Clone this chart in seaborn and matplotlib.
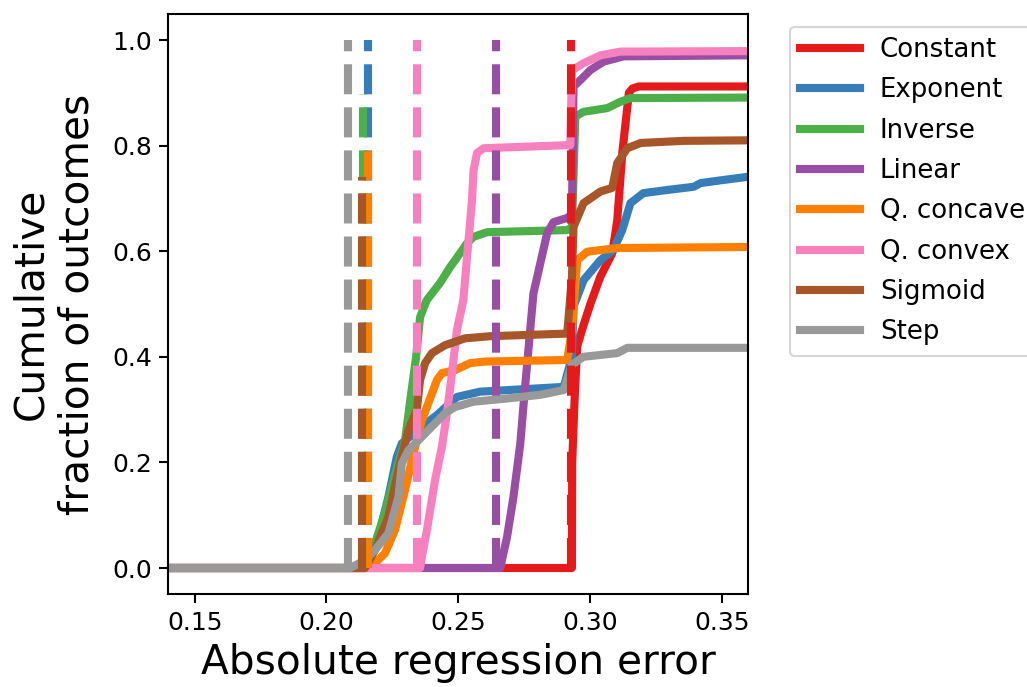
import numpy as np
import pandas as pd
import matplotlib
matplotlib.use("Agg")
import matplotlib.pyplot as plt
import seaborn as sns
from matplotlib.lines import Line2D

categories = ["Constant", "Exponent", "Inverse", "Linear",
              "Q. concave", "Q. convex", "Sigmoid", "Step"]
colors = ["#e41a1c", "#377eb8", "#4daf4a", "#984ea3",
          "#ff7f00", "#f781bf", "#a65628", "#999999"]

constant_x = [0.14, 0.2931, 0.2932, 0.2942, 0.2951, 0.2975, 0.3001, 0.3039, 0.3084,
              0.3103, 0.3122, 0.3147, 0.3160, 0.3184, 0.36]
constant_y = [0.0, 0.0, 0.20, 0.33, 0.42, 0.46, 0.50, 0.552, 0.596,
              0.659, 0.786, 0.90, 0.908, 0.912, 0.912]

exponent_x = [0.14, 0.2140, 0.2165, 0.2197, 0.2235, 0.2267, 0.2286, 0.2362, 0.2420,
              0.2495, 0.2583, 0.2900, 0.2931, 0.2937, 0.2975, 0.3039, 0.3088, 0.3122,
              0.3153, 0.3202, 0.3293, 0.3393, 0.3419, 0.3507, 0.36]
exponent_y = [0.0, 0.0, 0.015, 0.059, 0.135, 0.211, 0.236, 0.268, 0.29,
              0.324, 0.334, 0.343, 0.40, 0.495, 0.545, 0.583, 0.602, 0.64,
              0.691, 0.71, 0.716, 0.722, 0.729, 0.735, 0.741]

inverse_x = [0.14, 0.2145, 0.2180, 0.2225, 0.2262, 0.2298, 0.2321, 0.2340, 0.2355,
             0.2380, 0.2431, 0.2469, 0.2488, 0.2533, 0.2557, 0.2609, 0.2913, 0.2931,
             0.2944, 0.2975, 0.3065, 0.3115, 0.3153, 0.36]
inverse_y = [0.0, 0.0, 0.04, 0.11, 0.18, 0.242, 0.33, 0.40, 0.475,
             0.507, 0.54, 0.57, 0.583, 0.615, 0.627, 0.636, 0.640, 0.645,
             0.855, 0.864, 0.871, 0.883, 0.89, 0.891]

linear_x = [0.14, 0.2659, 0.2685, 0.2709, 0.2735, 0.2750, 0.2785, 0.2811, 0.2837,
            0.2861, 0.2913, 0.2931, 0.2937, 0.2963, 0.3001, 0.3051, 0.3127, 0.36]
linear_y = [0.0, 0.0, 0.059, 0.134, 0.235, 0.324, 0.52, 0.577, 0.634,
            0.655, 0.663, 0.67, 0.912, 0.924, 0.943, 0.959, 0.969, 0.971]

qconcave_x = [0.14, 0.2160, 0.2184, 0.2222, 0.2260, 0.2298, 0.2330, 0.2362, 0.2381,
              0.2419, 0.2438, 0.2488, 0.2545, 0.2602, 0.2913, 0.2931, 0.2951, 0.2989,
              0.3103, 0.36]
qconcave_y = [0.0, 0.0, 0.009, 0.028, 0.072, 0.148, 0.217, 0.28, 0.305,
              0.356, 0.369, 0.375, 0.388, 0.391, 0.394, 0.45, 0.583, 0.599,
              0.606, 0.608]

qconvex_x = [0.14, 0.2355, 0.2362, 0.2381, 0.2412, 0.2438, 0.2457, 0.2476, 0.2495,
             0.2519, 0.2552, 0.2558, 0.2571, 0.2596, 0.2925, 0.2931, 0.2975, 0.3039,
             0.3115, 0.36]
qconvex_y = [0.0, 0.0, 0.021, 0.072, 0.167, 0.23, 0.293, 0.369, 0.451,
             0.507, 0.697, 0.754, 0.786, 0.795, 0.801, 0.943, 0.956, 0.971,
             0.978, 0.979]

sigmoid_x = [0.14, 0.2146, 0.2184, 0.2235, 0.2273, 0.2311, 0.2343, 0.2355, 0.2374,
             0.2400, 0.2450, 0.2526, 0.2621, 0.2913, 0.2931, 0.2937, 0.2975, 0.3039,
             0.3084, 0.3103, 0.3141, 0.3192, 0.3355, 0.36]
sigmoid_y = [0.0, 0.0, 0.034, 0.097, 0.186, 0.261, 0.30, 0.356, 0.388,
             0.407, 0.422, 0.435, 0.439, 0.444, 0.55, 0.646, 0.691, 0.713,
             0.72, 0.767, 0.795, 0.805, 0.809, 0.81]

step_x = [0.14, 0.2090, 0.2147, 0.2184, 0.2235, 0.2273, 0.2286, 0.2311, 0.2349,
          0.2400, 0.2450, 0.2488, 0.2558, 0.2685, 0.2811, 0.2900, 0.2931, 0.2975,
          0.3103, 0.3141, 0.36]
step_y = [0.0, 0.0, 0.015, 0.034, 0.066, 0.135, 0.198, 0.223, 0.242,
          0.268, 0.293, 0.305, 0.315, 0.321, 0.328, 0.337, 0.385, 0.40,
          0.407, 0.417, 0.417]

# dashed reference lines (one per category)
threshold_x = [0.2928, 0.2158, 0.2139, 0.2644, 0.2158, 0.2343, 0.2134, 0.2083]
threshold_top = [1.0, 1.0, 0.898, 1.0, 0.79, 1.0, 0.74, 1.0]

xs = [constant_x, exponent_x, inverse_x, linear_x, qconcave_x, qconvex_x, sigmoid_x, step_x]
ys = [constant_y, exponent_y, inverse_y, linear_y, qconcave_y, qconvex_y, sigmoid_y, step_y]

rows = []
for cat, xx, yy in zip(categories, xs, ys):
    for i, (a, b) in enumerate(zip(xx, yy)):
        rows.append({"category": cat, "x": a, "y": b, "i": i})
df = pd.DataFrame(rows)

DPI = 150
fig = plt.figure(figsize=(1027 / DPI, 687 / DPI), dpi=DPI)
ax = fig.add_axes([168.3 / 1027, 1 - 594.4 / 687, (748.3 - 168.3) / 1027, (594.4 - 13.6) / 687])

LW = 3.9
sns.lineplot(data=df, x="x", y="y", hue="category", hue_order=categories,
             palette=colors, sort=False, estimator=None, lw=LW, legend=False, ax=ax)

for cat, c, tx, top in zip(categories, colors, threshold_x, threshold_top):
    ax.plot([tx, tx], [0, top], color=c, ls="--", lw=LW)

ax.set_xlim(0.14, 0.36)
ax.set_ylim(-0.05, 1.05)
ax.set_xticks([0.15, 0.20, 0.25, 0.30, 0.35])
ax.set_yticks([0.0, 0.2, 0.4, 0.6, 0.8, 1.0])
ax.tick_params(labelsize=12, length=4.3, width=1.0)
for s in ax.spines.values():
    s.set_linewidth(1.0)
ax.set_xlabel("Absolute regression error", fontsize=19.5)
ax.set_ylabel("Cumulative\nfraction of outcomes", fontsize=19.5, labelpad=7)

handles = [Line2D([], [], color=c, lw=LW) for c in colors]
fig.legend(handles, categories, loc="upper left",
           bbox_to_anchor=(790 / 1027, 1 - 26.7 / 687), fontsize=12.5,
           borderaxespad=0.0, handlelength=2.3, handletextpad=0.75,
           labelspacing=0.55)

fig.savefig("out.png", dpi=DPI)
